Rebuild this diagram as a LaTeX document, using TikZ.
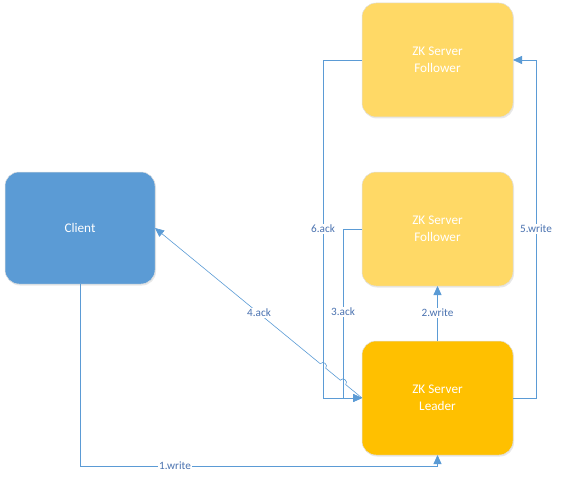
\documentclass[tikz,border=0pt]{standalone}
\usepackage{fontspec}
\setmainfont{Carlito}
\usetikzlibrary{arrows.meta,calc,shadows}
\definecolor{lineblue}{RGB}{91,155,213}
\definecolor{clientblue}{RGB}{91,155,213}
\definecolor{follow}{RGB}{255,217,102}
\definecolor{lead}{RGB}{255,192,0}
\definecolor{lbltext}{RGB}{74,114,176}
\begin{document}
\begin{tikzpicture}[x=1pt,y=-1pt,
  box/.style={rectangle, rounded corners=14pt, minimum width=151pt, minimum height=114pt,
    outer sep=0pt, inner sep=0pt, align=center, text=white, font=\fontsize{13.2}{17}\selectfont,
    draw=black!12, line width=0.5pt,
    drop shadow={opacity=0.18, shadow xshift=1pt, shadow yshift=-1.5pt}},
  conn/.style={draw=lineblue, line width=0.8pt},
  arr/.style={conn, -{Triangle[length=9pt,width=8pt]}},
  lbl/.style={fill=white, inner sep=1pt, text=lbltext, font=\fontsize{11.2}{12}\selectfont}]
\useasboundingbox (0,0) rectangle (564,481);
\node[box, fill=clientblue, minimum width=150pt, minimum height=112pt] (client) at (80,228) {Client};
\node[box, fill=follow] (f1) at (437.5,60) {ZK Server\\Follower};
\node[box, fill=follow] (f2) at (437.5,229) {ZK Server\\Follower};
\node[box, fill=lead] (leader) at (437.5,398) {ZK Server\\Leader};
% 1.write
\draw[arr] (client.south) -- ++(0,182) -| (leader.south);
% 2.write
\draw[arr] (leader.north) -- (f2.south);
% 3.ack
\draw[arr] (f2.west) -- ++(-19,0) |- (leader.west);
% 6.ack
\draw[arr] (f1.west) -- ++(-39,0) |- (leader.west);
% 5.write
\draw[arr] (leader.east) -- ++(23,0) |- (f1.east);
% 4.ack with hops
\coordinate (xa) at ($(leader.west)!{19/207}!(client.east)$);
\coordinate (xb) at ($(leader.west)!{39/207}!(client.east)$);
\coordinate (a1) at ($(xa)!3.5pt!(leader.west)$);
\coordinate (a2) at ($(xa)!3.5pt!(client.east)$);
\coordinate (b1) at ($(xb)!3.5pt!(leader.west)$);
\coordinate (b2) at ($(xb)!3.5pt!(client.east)$);
\draw[conn, line width=0.6pt] (leader.west) -- (a1)
  .. controls ($(a1)!4.5pt!-90:(a2)$) and ($(a2)!4.5pt!90:(a1)$) .. (a2)
  -- (b1)
  .. controls ($(b1)!4.5pt!-90:(b2)$) and ($(b2)!4.5pt!90:(b1)$) .. (b2);
\draw[conn, line width=0.6pt, -{Triangle[length=9pt,width=8pt]}] (b2) -- (client.east);
% labels
\node[lbl] (l1) at (175,466) {1.write};
\node[lbl] (l2) at (437.5,313) {2.write};
\node[lbl] (l3) at (343,312) {3.ack};
\node[lbl] (l4) at (259,313) {4.ack};
\node[lbl] (l5) at (536,229) {5.write};
\node[lbl] (l6) at (323,229) {6.ack};
\end{tikzpicture}
\end{document}
